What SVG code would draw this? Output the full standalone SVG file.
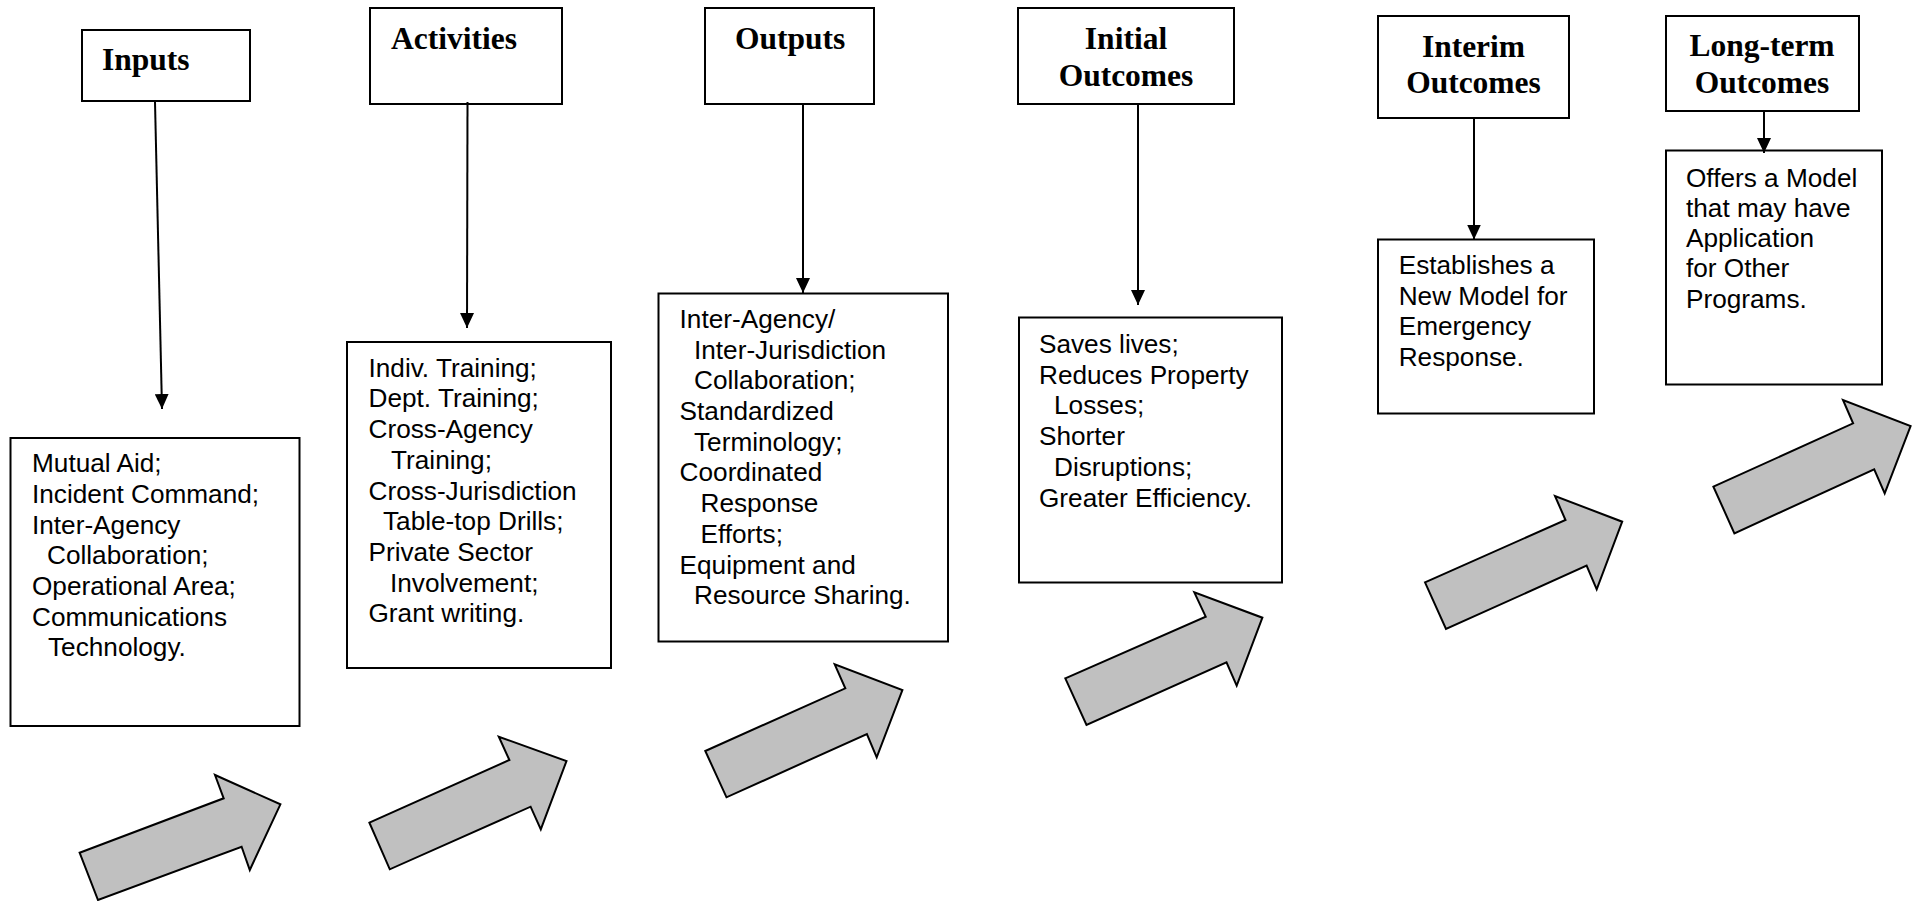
<svg xmlns="http://www.w3.org/2000/svg" width="1915" height="901" viewBox="0 0 1915 901">
<style>
.box{fill:#fff;stroke:#000;stroke-width:2}
.hd{font-family:"Liberation Serif","Times New Roman",serif;font-weight:bold;font-size:31.5px;fill:#000}
.c{text-anchor:middle}
.tx{font-family:"Liberation Sans",Arial,sans-serif;font-size:26.2px;fill:#000}
.conn{stroke:#000;stroke-width:2;fill:none;marker-end:url(#ah)}
.big{fill:#c0c0c0;stroke:#000;stroke-width:2;stroke-linejoin:miter}
</style>
<defs>
<marker id="ah" markerUnits="userSpaceOnUse" viewBox="0 0 15 14" refX="15" refY="7" markerWidth="15" markerHeight="14" orient="auto">
<path d="M0,0 L15,7 L0,14 z" fill="#000"/>
</marker>
</defs>
<rect width="1915" height="901" fill="#fff"/>

<g id="inputs-head"><rect class="box" x="82" y="30" width="168" height="71"/><text class="hd" x="102" y="70">Inputs</text></g>
<g id="activities-head"><rect class="box" x="370" y="8" width="192" height="96"/><text class="hd" x="391" y="49">Activities</text></g>
<g id="outputs-head"><rect class="box" x="705" y="8" width="169" height="96"/><text class="hd" x="735" y="49">Outputs</text></g>
<g id="initial-head"><rect class="box" x="1018" y="8" width="216" height="96"/><text class="hd c" x="1126" y="49">Initial</text><text class="hd c" x="1126" y="86">Outcomes</text></g>
<g id="interim-head"><rect class="box" x="1378" y="16" width="191" height="102"/><text class="hd c" x="1473.5" y="56.5">Interim</text><text class="hd c" x="1473.5" y="93">Outcomes</text></g>
<g id="longterm-head"><rect class="box" x="1666" y="16" width="193" height="95"/><text class="hd c" x="1762" y="56">Long-term</text><text class="hd c" x="1762" y="92.5">Outcomes</text></g>

<g id="inputs-body"><rect class="box" x="10.5" y="438" width="289" height="288"/>
<text class="tx"><tspan x="32" y="472.3">Mutual Aid;</tspan><tspan x="32" y="503">Incident Command;</tspan><tspan x="32" y="533.6">Inter-Agency</tspan><tspan x="47" y="564.2">Collaboration;</tspan><tspan x="32" y="594.9">Operational Area;</tspan><tspan x="32" y="625.5">Communications</tspan><tspan x="48" y="656.1">Technology.</tspan></text></g>

<g id="activities-body"><rect class="box" x="347" y="342" width="264" height="326"/>
<text class="tx"><tspan x="368.5" y="376.7">Indiv. Training;</tspan><tspan x="368.5" y="407.4">Dept. Training;</tspan><tspan x="368.5" y="438.1">Cross-Agency</tspan><tspan x="391" y="468.8">Training;</tspan><tspan x="368.5" y="499.5">Cross-Jurisdiction</tspan><tspan x="383" y="530.2">Table-top Drills;</tspan><tspan x="368.5" y="560.9">Private Sector</tspan><tspan x="390" y="591.6">Involvement;</tspan><tspan x="368.5" y="622.3">Grant writing.</tspan></text></g>

<g id="outputs-body"><rect class="box" x="658.5" y="293.5" width="289.5" height="348"/>
<text class="tx"><tspan x="679.6" y="328">Inter-Agency/</tspan><tspan x="694" y="358.7">Inter-Jurisdiction</tspan><tspan x="694" y="389.4">Collaboration;</tspan><tspan x="679.6" y="420">Standardized</tspan><tspan x="694" y="450.7">Terminology;</tspan><tspan x="679.6" y="481.4">Coordinated</tspan><tspan x="700.5" y="512">Response</tspan><tspan x="700.5" y="542.8">Efforts;</tspan><tspan x="679.6" y="573.5">Equipment and</tspan><tspan x="694" y="604.2">Resource Sharing.</tspan></text></g>

<g id="initial-body"><rect class="box" x="1019" y="317.5" width="263" height="265"/>
<text class="tx"><tspan x="1039" y="352.7">Saves lives;</tspan><tspan x="1039" y="383.5">Reduces Property</tspan><tspan x="1054" y="414.3">Losses;</tspan><tspan x="1039" y="445">Shorter</tspan><tspan x="1054" y="475.8">Disruptions;</tspan><tspan x="1039" y="506.7">Greater Efficiency.</tspan></text></g>

<g id="interim-body"><rect class="box" x="1378" y="239.5" width="216" height="174"/>
<text class="tx"><tspan x="1398.7" y="274">Establishes a</tspan><tspan x="1398.7" y="304.5">New Model for</tspan><tspan x="1398.7" y="335">Emergency</tspan><tspan x="1398.7" y="365.5">Response.</tspan></text></g>

<g id="longterm-body"><rect class="box" x="1666" y="150.5" width="216" height="234"/>
<text class="tx"><tspan x="1686" y="186.7">Offers a Model</tspan><tspan x="1686" y="216.9">that may have</tspan><tspan x="1686" y="247.1">Application</tspan><tspan x="1686" y="277.3">for Other</tspan><tspan x="1686" y="307.5">Programs.</tspan></text></g>

<g id="connectors">
<line class="conn" x1="155" y1="102" x2="162" y2="409"/>
<line class="conn" x1="467.5" y1="102" x2="467" y2="328"/>
<line class="conn" x1="803" y1="104" x2="803" y2="293"/>
<line class="conn" x1="1138" y1="104" x2="1138" y2="305"/>
<line class="conn" x1="1474" y1="118" x2="1474" y2="239.5"/>
<line class="conn" x1="1764" y1="111" x2="1764" y2="153"/>
</g>

<g id="flow-arrows">
<polygon class="big" points="79.6,852.7 223.7,798.3 215,775 280.4,804.3 249.8,870 241.6,846.7 98,900"/>
<polygon class="big" points="369.4,822.7 509.4,760 498.8,736.7 566.5,761 540.8,829.3 530.6,806.7 389.8,869.3"/>
<polygon class="big" points="705.3,751 845.3,688.3 834.7,664.3 902.4,690 876.7,757.3 866.9,734 726.5,797.3"/>
<polygon class="big" points="1065.3,678.3 1205.7,616.7 1194.3,592.3 1262.4,617.7 1236.7,685.7 1226.5,662.3 1086.5,725"/>
<polygon class="big" points="1425,582.3 1565.5,520 1555,496 1622.2,521.7 1596.7,589.3 1586.6,565.7 1446,629"/>
<polygon class="big" points="1713.4,486.7 1853.1,423.3 1843,400 1910.6,426 1884.7,493.3 1874.2,469.3 1734.4,533.3"/>
</g>
</svg>
